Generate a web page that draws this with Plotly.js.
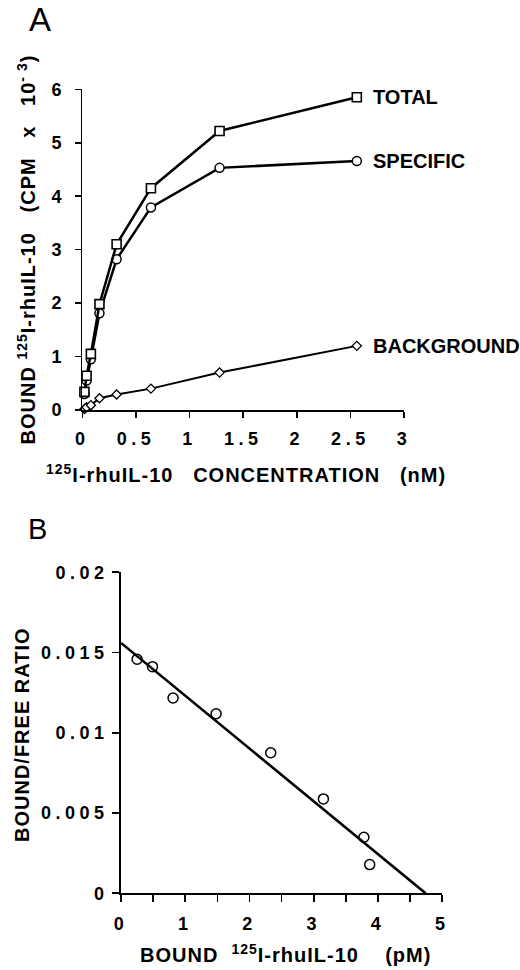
<!DOCTYPE html>
<html>
<head>
<meta charset="utf-8">
<script src="https://cdn.plot.ly/plotly-3.0.1.min.js"></script>
<style>
  html, body { margin: 0; padding: 0; background: #fff; }
  #chart { width: 520px; height: 970px; }
  g.xtick text, g.x2tick text, g.ytick text, g.y2tick text { letter-spacing: 4.5px; }
  g.annotation.atitle text { letter-spacing: 1px; }
</style>
</head>
<body>
<div id="chart"></div>
<script>
// ---- Panel A data: saturation binding ----
var concentration = [0.02, 0.04, 0.08, 0.16, 0.32, 0.64, 1.28, 2.56];
var totalBound    = [0.34, 0.64, 1.05, 1.98, 3.10, 4.15, 5.22, 5.85];
var specificBound = [0.30, 0.55, 0.95, 1.81, 2.82, 3.79, 4.53, 4.66];
var backgroundBound = [0.02, 0.05, 0.09, 0.22, 0.29, 0.40, 0.70, 1.20];
var seriesNames = ['TOTAL', 'SPECIFIC', 'BACKGROUND'];
var xTicksA = [0, 0.5, 1, 1.5, 2, 2.5, 3];
var xTickTextA = ['0', '0.5', '1', '1.5', '2', '2.5', '3'];
var yTicksA = [0, 1, 2, 3, 4, 5, 6];
var yTickTextA = ['0', '1', '2', '3', '4', '5', '6'];

// ---- Panel B data: Scatchard plot ----
var boundB = [0.25, 0.49, 0.81, 1.48, 2.33, 3.15, 3.78, 3.87];
var ratioB = [0.01458, 0.01412, 0.01217, 0.01119, 0.00876, 0.00588, 0.00349, 0.00179];
var fitX = [0, 4.74];
var fitY = [0.0156, 0];
var xTicksB = [0, 1, 2, 3, 4, 5];
var xTickTextB = ['0', '1', '2', '3', '4', '5'];
var yTicksB = [0, 0.005, 0.01, 0.015, 0.02];
var yTickTextB = ['0', '0.005', '0.01', '0.015', '0.02'];

var FONT = 'Liberation Sans, Arial, Helvetica, sans-serif';
var W = 520, H = 970;
function px(x) { return x / W; }
function py(y) { return 1 - y / H; }
var nb = '\u00A0';
var gap = nb + nb + nb;

var traces = [
  { x: concentration, y: backgroundBound, xaxis: 'x', yaxis: 'y', mode: 'lines+markers', cliponaxis: false,
    line: { color: '#000', width: 2 },
    marker: { symbol: 'diamond', size: 7, color: '#fff', line: { color: '#000', width: 1.3 } } },
  { x: concentration, y: specificBound, xaxis: 'x', yaxis: 'y', mode: 'lines+markers', cliponaxis: false,
    line: { color: '#000', width: 2.5 },
    marker: { symbol: 'circle', size: 9, color: '#fff', line: { color: '#000', width: 1.5 } } },
  { x: concentration, y: totalBound, xaxis: 'x', yaxis: 'y', mode: 'lines+markers', cliponaxis: false,
    line: { color: '#000', width: 2.5 },
    marker: { symbol: 'square', size: 9, color: '#fff', line: { color: '#000', width: 1.6 } } },
  { x: fitX, y: fitY, xaxis: 'x2', yaxis: 'y2', mode: 'lines', cliponaxis: false,
    line: { color: '#000', width: 2.6 } },
  { x: boundB, y: ratioB, xaxis: 'x2', yaxis: 'y2', mode: 'markers', cliponaxis: false,
    marker: { symbol: 'circle', size: 10, color: 'rgba(255,255,255,0)', line: { color: '#000', width: 1.5 } } }
];

var tickFont = { family: FONT, size: 18, color: '#000', weight: 'bold' };
var axisCommon = {
  showgrid: false, zeroline: false, showline: true, linecolor: '#000', linewidth: 1.8,
  ticks: 'outside', tickcolor: '#000', tickwidth: 1.6, ticklen: 6, tickfont: tickFont,
  tickmode: 'array', fixedrange: true
};

var layout = {
  width: W, height: H,
  margin: { l: 0, r: 0, t: 0, b: 0 },
  paper_bgcolor: '#fff', plot_bgcolor: 'rgba(0,0,0,0)',
  showlegend: false,
  font: { family: FONT, color: '#000' },
  xaxis: Object.assign({}, axisCommon, {
    domain: [px(82.3), px(404)], range: [0, 3], anchor: 'y',
    tickvals: xTicksA, ticktext: xTickTextA, ticklabelstandoff: 6 }),
  yaxis: Object.assign({}, axisCommon, {
    domain: [py(410), py(89.3)], range: [0, 6], anchor: 'x',
    tickvals: yTicksA, ticktext: yTickTextA, ticklabelstandoff: 5 }),
  xaxis2: Object.assign({}, axisCommon, {
    domain: [px(121), px(442.3)], range: [0, 5], anchor: 'y2', ticklen: 7,
    tickvals: xTicksB, ticktext: xTickTextB, ticklabelstandoff: 6,
    minor: { dtick: 0.5, tick0: 0, ticks: 'outside', ticklen: 7, tickwidth: 1.6, tickcolor: '#000', showgrid: false } }),
  yaxis2: Object.assign({}, axisCommon, {
    domain: [py(893.3), py(572.3)], range: [0, 0.02], anchor: 'x2', ticklen: 7,
    tickvals: yTicksB, ticktext: yTickTextB, ticklabelstandoff: 0 }),
  annotations: [
    { text: 'A', xref: 'paper', yref: 'paper', x: px(40), y: py(19), xanchor: 'center', yanchor: 'middle',
      showarrow: false, font: { family: FONT, size: 33, color: '#000' } },
    { text: 'B', xref: 'paper', yref: 'paper', x: px(37), y: py(529), xanchor: 'center', yanchor: 'middle',
      showarrow: false, font: { family: FONT, size: 29, color: '#000' } },
    // series labels attached to last point of each series
    { text: seriesNames[0], xref: 'x', yref: 'y', x: concentration[7], y: totalBound[7], xanchor: 'left', yanchor: 'middle',
      xshift: 14, showarrow: false, font: { family: FONT, size: 20, color: '#000', weight: 'bold' } },
    { text: seriesNames[1], xref: 'x', yref: 'y', x: concentration[7], y: specificBound[7], xanchor: 'left', yanchor: 'middle',
      xshift: 14, showarrow: false, font: { family: FONT, size: 20, color: '#000', weight: 'bold' } },
    { text: seriesNames[2], xref: 'x', yref: 'y', x: concentration[7], y: backgroundBound[7], xanchor: 'left', yanchor: 'middle',
      xshift: 14, showarrow: false, font: { family: FONT, size: 20, color: '#000', weight: 'bold' } },
    // axis titles
    { text: 'BOUND <sup>125</sup>I-rhuIL-10' + gap + '(CPM' + gap + 'x' + gap + '10<sup>-' + nb + '3</sup>)',
      xref: 'paper', yref: 'paper', x: px(27), y: py(250), xanchor: 'center', yanchor: 'middle', textangle: -90,
      showarrow: false, font: { family: FONT, size: 20, color: '#000', weight: 'bold' } },
    { text: '<sup>125</sup>I-rhuIL-10' + gap + 'CONCENTRATION' + gap + '(nM)',
      xref: 'paper', yref: 'paper', x: px(246), y: py(473), xanchor: 'center', yanchor: 'middle',
      showarrow: false, font: { family: FONT, size: 20, color: '#000', weight: 'bold' } },
    { text: 'BOUND/FREE' + nb + 'RATIO',
      xref: 'paper', yref: 'paper', x: px(22), y: py(735), xanchor: 'center', yanchor: 'middle', textangle: -90,
      showarrow: false, font: { family: FONT, size: 20, color: '#000', weight: 'bold' } },
    { text: 'BOUND ' + nb + '<sup>125</sup>I-rhuIL-10' + gap + nb + '(pM)',
      xref: 'paper', yref: 'paper', x: px(285), y: py(953), xanchor: 'center', yanchor: 'middle',
      showarrow: false, font: { family: FONT, size: 20, color: '#000', weight: 'bold' } }
  ]
};

Plotly.newPlot('chart', traces, layout, { staticPlot: true, displayModeBar: false }).then(function () {
  var anns = document.querySelectorAll('g.annotation');
  anns.forEach(function (g, i) {
    if (i >= 5) g.classList.add('atitle');
  });
});
</script>
</body>
</html>
